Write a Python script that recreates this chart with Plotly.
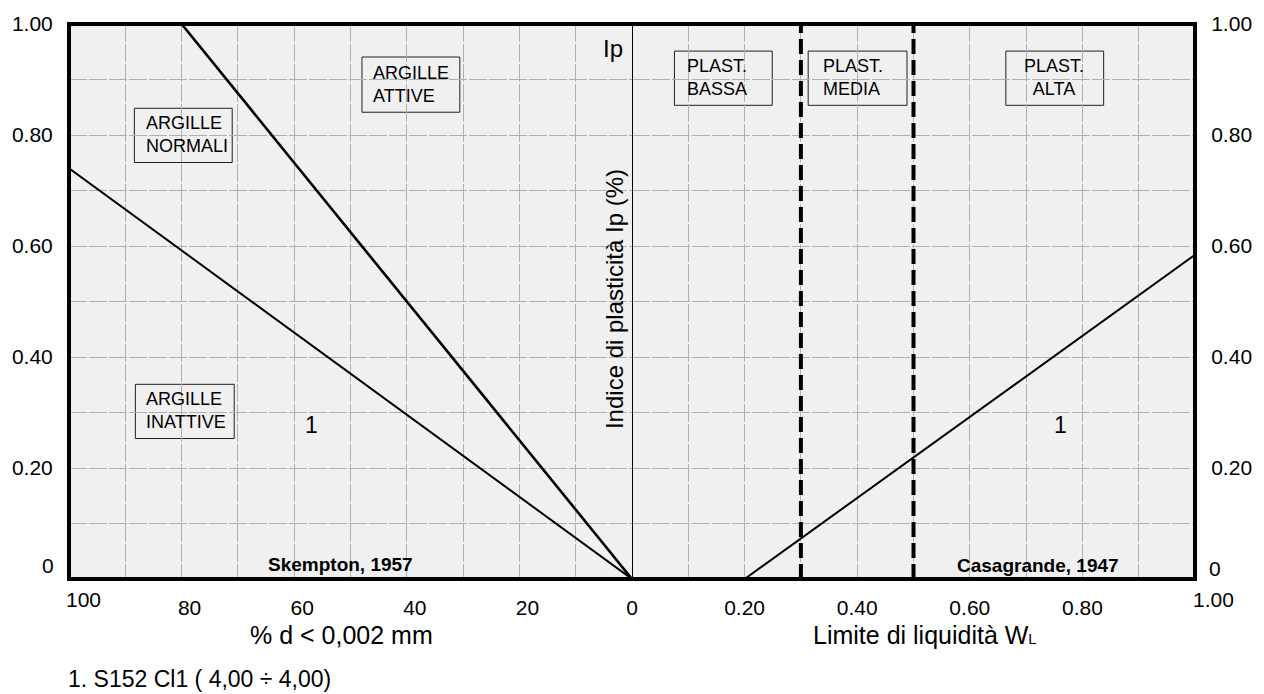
import plotly.graph_objects as go

# ---------------- data ----------------
# Skempton (1957) activity chart: % d < 0,002 mm vs Ip
active_pct = [0, 80]          # boundary ARGILLE ATTIVE / NORMALI
active_ip = [0.00, 1.00]
inactive_pct = [0, 100]       # boundary ARGILLE NORMALI / INATTIVE
inactive_ip = [0.00, 0.74]

# Casagrande (1947) plasticity chart: WL vs Ip (A-line)
casa_wl = [0.20, 1.00]
casa_ip = [0.00, 0.584]
plast_limits = [0.30, 0.50]   # low / medium / high plasticity limits

left_ticks = [100, 90, 80, 70, 60, 50, 40, 30, 20, 10, 0]
left_labels = ["", "", "80", "", "60", "", "40", "", "20", "", ""]
right_ticks = [0.0, 0.1, 0.2, 0.3, 0.4, 0.5, 0.6, 0.7, 0.8, 0.9, 1.0]
right_labels = ["0", "", "0.20", "", "0.40", "", "0.60", "", "0.80", "", ""]
y_ticks = [0.0, 0.1, 0.2, 0.3, 0.4, 0.5, 0.6, 0.7, 0.8, 0.9, 1.0]
y_labels = ["", "", "0.20", "", "0.40", "", "0.60", "", "0.80", "", "1.00"]

footnote = "1. S152 Cl1 ( 4,00 \u00f7 4,00)"

# ---------------- styling helpers ----------------
FONT = "Liberation Sans, Arial, sans-serif"
BG = "#f0f0f0"
GRID = "#b0b0b0"
L, R, T, B = 67, 1195, 16, 579


def fx(p):
    return (p - L) / (R - L)


def fy(p):
    return (B - p) / (B - T)


fig = go.Figure()

fig.add_trace(go.Scatter(x=inactive_pct, y=inactive_ip, mode="lines",
                         line=dict(color="black", width=2), xaxis="x", yaxis="y",
                         hoverinfo="skip", showlegend=False))
fig.add_trace(go.Scatter(x=active_pct, y=active_ip, mode="lines",
                         line=dict(color="black", width=2.6), xaxis="x", yaxis="y",
                         hoverinfo="skip", showlegend=False))
fig.add_trace(go.Scatter(x=casa_wl, y=casa_ip, mode="lines",
                         line=dict(color="black", width=2), xaxis="x2", yaxis="y2",
                         hoverinfo="skip", showlegend=False))
for wl in plast_limits:
    fig.add_trace(go.Scatter(x=[wl, wl], y=[0, 1], mode="lines",
                             line=dict(color="black", width=4, dash="15px,6px"),
                             xaxis="x2", yaxis="y", hoverinfo="skip", showlegend=False))

axis_common = dict(showgrid=True, gridcolor=GRID, gridwidth=1, griddash="18px,2px",
                   zeroline=False, showline=False, ticks="outside",
                   tickcolor="rgba(0,0,0,0)",
                   tickfont=dict(family=FONT, size=21, color="black"))

fig.update_layout(
    width=1264, height=694,
    margin=dict(l=L, r=1264 - R, t=T, b=694 - B),
    paper_bgcolor="white", plot_bgcolor=BG,
    showlegend=False,
    xaxis=dict(domain=[0, 0.5], range=[100, 0], tickmode="array",
               tickvals=left_ticks, ticktext=left_labels, anchor="y",
               ticklen=10, ticklabelshift=-8, **axis_common),
    xaxis2=dict(domain=[0.5, 1], range=[0, 1], tickmode="array",
                tickvals=right_ticks, ticktext=right_labels, anchor="y",
                ticklen=10, **axis_common),
    yaxis=dict(range=[0, 1], tickmode="array", tickvals=y_ticks, ticktext=y_labels,
               anchor="x", ticklen=11, **axis_common),
    yaxis2=dict(range=[0, 1], tickmode="array", tickvals=y_ticks, ticktext=y_labels,
                overlaying="y", side="right", anchor="x2", ticklen=11,
                **{**axis_common, "showgrid": False}),
)

shapes = []
# center vertical line
shapes.append(dict(type="line", xref="paper", yref="paper", x0=fx(631.5), x1=fx(631.5),
                   y0=0, y1=1, line=dict(color="black", width=1), layer="above"))
# label boxes
boxes = [
    (132, 101, 230, 156),
    (360, 49, 458, 105),
    (133, 381, 232, 436),
    (673, 43, 771, 98),
    (807, 43, 906, 98),
    (1005, 43, 1103, 98),
]
for x0, y0, x1, y1 in boxes:
    shapes.append(dict(type="rect", xref="paper", yref="paper",
                       x0=fx(x0 + 0.5), x1=fx(x1 + 0.5), y0=fy(y1 + 0.5), y1=fy(y0 + 0.5),
                       line=dict(color="#202020", width=1), fillcolor=BG,
                       layer="between"))
# thick frame
shapes.append(dict(type="rect", xref="paper", yref="paper", x0=0, x1=1, y0=0, y1=1,
                   line=dict(color="black", width=4), layer="above"))
fig.update_layout(shapes=shapes)

ann = []


def text(x, y, s, size, xanchor="left", yanchor="middle", bold=False, align="left",
         angle=0):
    ann.append(dict(x=fx(x), y=fy(y), xref="paper", yref="paper", text=s,
                    showarrow=False, xanchor=xanchor, yanchor=yanchor, align=align,
                    textangle=angle, borderpad=0,
                    font=dict(family=FONT, size=size, color="black",
                              weight="bold" if bold else "normal")))


box_font = 18
text(143, 128.5, "ARGILLE<br>NORMALI", box_font)
text(371, 77, "ARGILLE<br>ATTIVE", box_font)
text(143, 408.5, "ARGILLE<br>INATTIVE", box_font)
text(685, 70.5, "PLAST.<br>BASSA", box_font)
text(821, 70.5, "PLAST.<br>MEDIA", box_font)
text(1054, 70.5, "PLAST.<br>ALTA", box_font, xanchor="center", align="center")

text(265, 564.5, "Skempton, 1957", 19, bold=True)
text(956, 565, "Casagrande, 1947", 19, bold=True)
text(612, 40.5, "Ip", 24, xanchor="center")
text(310, 423, "1", 23, xanchor="center")
text(1060, 423, "1", 23, xanchor="center")
text(613, 295, "Indice di plasticit\u00e0 Ip (%)", 24, xanchor="center", angle=-90)

# end tick labels
text(53, 565, "0", 21, xanchor="right")
text(1208, 568, "0", 21, xanchor="left")
text(63, 600, "100", 21, xanchor="left")
text(1192, 600, "1.00", 21, xanchor="left")

# axis titles
text(340, 636, "% d &lt; 0,002 mm", 25, xanchor="center")
text(925, 636, "Limite di liquidit\u00e0 W<span style='font-size:15px'>L</span>", 25,
     xanchor="center")

text(65, 680, footnote, 23)

fig.update_layout(annotations=ann)

fig.write_html("out.html")
